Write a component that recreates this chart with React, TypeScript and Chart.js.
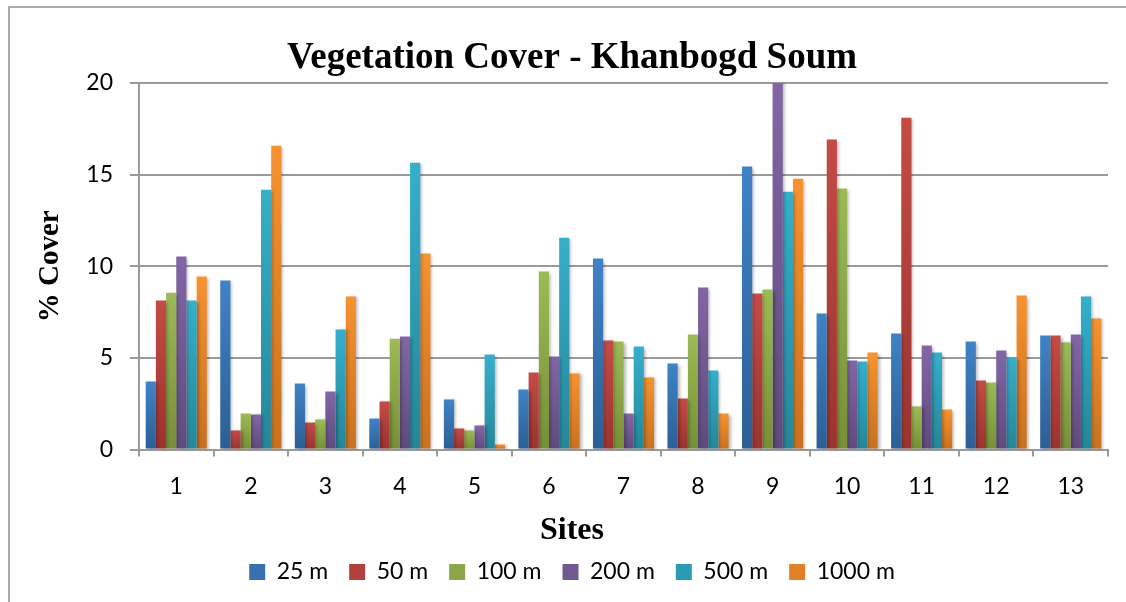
import React, { useEffect, useRef } from "react";
import { Chart, registerables } from "chart.js";

Chart.register(...registerables);

const sites = ["1", "2", "3", "4", "5", "6", "7", "8", "9", "10", "11", "12", "13"];
const seriesNames = ["25 m", "50 m", "100 m", "200 m", "500 m", "1000 m"];
const cover25 = [3.71, 9.22, 3.6, 1.69, 2.73, 3.27, 10.42, 4.69, 15.44, 7.42, 6.33, 5.89, 6.22];
const cover50 = [8.13, 1.04, 1.47, 2.62, 1.15, 4.2, 5.95, 2.78, 8.51, 16.91, 18.11, 3.76, 6.22];
const cover100 = [8.56, 1.96, 1.64, 6.05, 1.04, 9.71, 5.89, 6.27, 8.73, 14.24, 2.35, 3.65, 5.84];
const cover200 = [10.53, 1.91, 3.16, 6.16, 1.31, 5.07, 1.96, 8.84, 20.1, 4.85, 5.67, 5.4, 6.27];
const cover500 = [8.13, 14.18, 6.55, 15.65, 5.18, 11.56, 5.62, 4.31, 14.07, 4.8, 5.29, 5.02, 8.35];
const cover1000 = [9.44, 16.58, 8.35, 10.69, 0.27, 4.15, 3.93, 1.96, 14.78, 5.29, 2.18, 8.4, 7.15];
const seriesValues = [cover25, cover50, cover100, cover200, cover500, cover1000];

const topColors = ["#3f83c6", "#c54b45", "#9bbb55", "#8266a6", "#35afcc", "#f7922f"];
const bottomColors = ["#2c5e94", "#9a332f", "#778f36", "#5f4a7d", "#258699", "#c9711f"];
const midColors = ["#3671ad", "#b0413c", "#8aa648", "#71588f", "#2d9ab3", "#e08128"];

const yTickStep = 5;
const yMax = 20;

const GRID = "#9a9a9a";
const LABEL_FONT = "Lato, 'Open Sans', sans-serif";
const SERIF = "'Liberation Serif', 'Times New Roman', serif";

const framePlugin = {
  id: "frame",
  beforeDraw(chart: any) {
    const ctx = chart.ctx;
    ctx.save();
    ctx.fillStyle = "#ffffff";
    ctx.fillRect(0, 0, chart.width, chart.height);
    ctx.strokeStyle = "#8f8f8f";
    ctx.lineWidth = 1.5;
    ctx.beginPath();
    ctx.moveTo(9, chart.height);
    ctx.lineTo(9, 7);
    ctx.lineTo(chart.width, 7);
    ctx.stroke();
    ctx.restore();
  },
};

const shadowPlugin = {
  id: "barShadow",
  beforeDatasetsDraw(chart: any) {
    const ctx = chart.ctx;
    ctx.save();
    ctx.shadowColor = "rgba(0,0,0,0.28)";
    ctx.shadowBlur = 3;
    ctx.shadowOffsetX = 2;
    ctx.shadowOffsetY = 1;
  },
  afterDatasetsDraw(chart: any) {
    chart.ctx.restore();
  },
};

function makeFill(i: number) {
  return (c: any) => {
    const chart = c.chart;
    const y = chart.scales && chart.scales.y;
    if (!y || c.type !== "data") return midColors[i];
    const v = c.parsed ? c.parsed.y : c.raw;
    const y0 = y.getPixelForValue(0);
    const y1 = y.getPixelForValue(Math.min(v, yMax));
    if (!isFinite(y0) || !isFinite(y1) || Math.abs(y0 - y1) < 0.5) return midColors[i];
    const g = chart.ctx.createLinearGradient(0, y1, 0, y0);
    g.addColorStop(0, topColors[i]);
    g.addColorStop(1, bottomColors[i]);
    return g;
  };
}

export default function App() {
  const ref = useRef<HTMLCanvasElement>(null);

  useEffect(() => {
    if (!ref.current) return;
    const chart = new Chart(ref.current, {
      type: "bar",
      data: {
        labels: sites,
        datasets: seriesNames.map((name, i) => ({
          label: name,
          data: seriesValues[i],
          backgroundColor: makeFill(i),
          borderWidth: 0,
          categoryPercentage: 0.82,
          barPercentage: 1,
        })),
      },
      options: {
        animation: false,
        responsive: true,
        maintainAspectRatio: false,
        layout: { padding: { left: 36, right: 18, top: 0, bottom: 8.5 } },
        scales: {
          x: {
            grid: {
              display: true,
              drawOnChartArea: false,
              drawTicks: true,
              tickLength: 7,
              color: GRID,
              lineWidth: 2,
              offset: true,
            },
            border: { display: true, color: GRID, width: 2 },
            ticks: {
              color: "#000",
              font: { family: LABEL_FONT, size: 23 },
              padding: 16,
              maxRotation: 0,
              autoSkip: false,
            },
            afterFit: (s: any) => {
              s.height = 55;
            },
          },
          y: {
            min: 0,
            max: yMax,
            ticks: {
              stepSize: yTickStep,
              color: "#000",
              font: { family: LABEL_FONT, size: 23 },
              padding: 17,
            },
            grid: { color: GRID, lineWidth: 2, tickLength: 9, drawTicks: true },
            border: { display: true, color: GRID, width: 2 },
            title: {
              display: true,
              text: "% Cover",
              color: "#000",
              font: { family: SERIF, size: 29, weight: "bold", lineHeight: 1.2 },
              padding: { top: -3, bottom: 0 },
            },
            afterFit: (s: any) => {
              s.width = 103;
            },
          },
        },
        plugins: {
          title: {
            display: true,
            text: "Vegetation Cover - Khanbogd Soum",
            color: "#000",
            font: { family: SERIF, size: 37, weight: "bold", lineHeight: 1.2 },
            padding: { top: 36, bottom: 2.6 },
          },
          subtitle: {
            display: true,
            text: "Sites",
            position: "bottom",
            weight: 500,
            color: "#000",
            font: { family: SERIF, size: 32, weight: "bold", lineHeight: 0.5 },
            padding: { top: 18, bottom: 1 },
          },
          legend: {
            display: true,
            position: "bottom",
            labels: {
              color: "#000",
              font: { family: LABEL_FONT, size: 23 },
              boxWidth: 16,
              boxHeight: 16,
              padding: 21,
              generateLabels: (ch: any) => {
                const items = Chart.defaults.plugins.legend.labels.generateLabels(ch);
                return items.map((it: any, i: number) => ({
                  ...it,
                  fillStyle: midColors[i],
                  strokeStyle: "rgba(0,0,0,0)",
                  lineWidth: 0,
                }));
              },
            },
          },
          tooltip: { enabled: false },
        },
      },
      plugins: [framePlugin, shadowPlugin],
    } as any);
    return () => chart.destroy();
  }, []);

  return (
    <div style={{ position: "absolute", left: 0, top: 0, width: 1126, height: 602 }}>
      <canvas ref={ref} />
    </div>
  );
}
